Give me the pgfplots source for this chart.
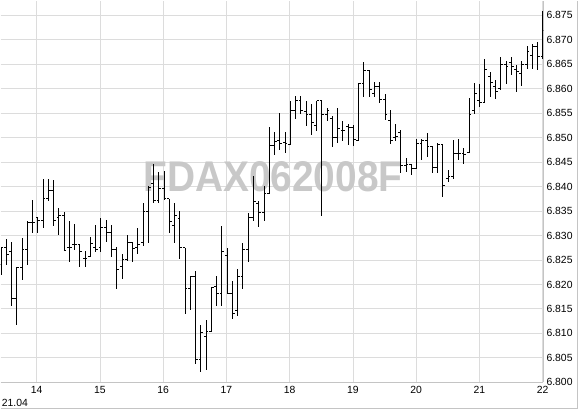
\documentclass[border=0pt]{standalone}
\usepackage{pgfplots}
\pgfplotsset{compat=1.18}
\usepackage{pgfplotstable}
\usepackage{fontspec}
\setmainfont{Liberation Sans}
\definecolor{gridc}{HTML}{DCDCDC}
\definecolor{axc}{HTML}{C4C4C4}
\definecolor{wm}{HTML}{C8C8C8}
\newcommand\tf{\fontsize{10.4bp}{12bp}\selectfont}

\pgfplotstableread{
i O H L C
0 6824.0 6827.5 6822.0 6827.5
1 6827.5 6829.2 6824.0 6826.1
2 6826.7 6828.6 6815.6 6817.2
3 6817.2 6823.6 6811.8 6823.5
4 6823.5 6829.5 6821.0 6827.1
5 6827.1 6833.0 6824.0 6832.6
6 6832.6 6837.2 6830.5 6832.6
7 6833.6 6833.8 6830.5 6833.1
8 6833.1 6841.6 6831.6 6837.5
9 6837.5 6841.6 6837.0 6839.2
10 6839.2 6841.3 6831.9 6833.0
11 6833.6 6835.7 6830.2 6834.1
12 6834.1 6834.9 6827.0 6827.0
13 6827.5 6833.0 6824.6 6827.5
14 6828.1 6832.4 6827.0 6828.1
15 6828.1 6828.1 6823.6 6826.8
16 6825.2 6826.8 6823.6 6825.2
17 6825.8 6829.6 6825.6 6828.3
18 6827.5 6832.1 6826.6 6827.1
19 6827.5 6833.6 6826.6 6831.7
20 6831.7 6833.1 6828.7 6830.7
21 6830.7 6832.2 6825.6 6827.1
22 6827.1 6827.7 6819.1 6823.1
23 6823.7 6826.2 6821.2 6825.1
24 6825.1 6830.2 6824.7 6828.6
25 6828.6 6828.6 6824.6 6827.3
26 6827.5 6831.6 6826.3 6828.2
27 6828.6 6836.7 6827.8 6834.9
28 6834.9 6840.2 6828.5 6839.9
29 6840.6 6844.7 6836.6 6837.2
30 6837.2 6843.0 6836.6 6839.6
31 6839.6 6843.1 6837.2 6837.5
32 6837.5 6837.5 6830.5 6832.8
33 6832.1 6836.6 6828.5 6834.1
34 6833.4 6835.1 6825.1 6827.5
35 6827.5 6827.5 6814.0 6819.1
36 6819.1 6821.7 6814.7 6821.7
37 6821.7 6822.8 6803.7 6804.7
38 6804.7 6811.7 6802.0 6810.2
39 6809.3 6812.7 6802.5 6810.4
40 6810.4 6819.3 6810.3 6819.3
41 6819.5 6821.7 6815.5 6818.1
42 6818.1 6832.0 6815.5 6826.7
43 6826.0 6827.4 6818.1 6818.2
44 6818.2 6820.8 6813.0 6814.0
45 6814.7 6823.1 6813.6 6821.6
46 6821.6 6828.5 6819.0 6827.1
47 6827.1 6834.6 6824.5 6833.7
48 6833.7 6842.2 6832.9 6836.9
49 6836.5 6837.1 6831.8 6834.7
50 6834.7 6840.1 6833.0 6838.6
51 6838.5 6852.2 6838.4 6848.4
52 6848.4 6851.1 6846.5 6849.3
53 6849.5 6855.1 6847.4 6848.8
54 6849.1 6851.2 6846.9 6848.8
55 6848.6 6857.6 6848.5 6855.6
56 6855.6 6858.5 6853.9 6857.6
57 6857.6 6858.5 6854.8 6855.6
58 6855.4 6857.6 6852.4 6854.8
59 6854.8 6856.8 6850.5 6853.1
60 6852.5 6857.6 6851.4 6857.6
61 6857.6 6857.7 6834.0 6854.8
62 6854.8 6856.0 6853.5 6855.6
63 6854.0 6854.5 6848.0 6850.0
64 6850.0 6856.0 6849.0 6851.9
65 6851.5 6853.4 6849.3 6851.5
66 6852.2 6852.7 6848.5 6852.0
67 6852.0 6852.6 6848.4 6849.7
68 6849.4 6861.1 6849.4 6861.1
69 6861.1 6865.5 6858.3 6863.8
70 6863.8 6863.8 6858.3 6859.9
71 6859.1 6861.4 6858.3 6860.5
72 6860.5 6861.4 6857.0 6857.9
73 6857.9 6858.9 6853.6 6854.8
74 6853.6 6855.6 6848.8 6849.4
75 6850.0 6852.9 6849.4 6850.3
76 6851.0 6851.5 6842.7 6844.4
77 6844.4 6845.9 6843.0 6844.5
78 6844.5 6844.6 6842.3 6843.8
79 6843.8 6849.8 6843.5 6848.9
80 6848.9 6849.8 6845.4 6849.4
81 6849.4 6851.0 6846.1 6848.3
82 6848.3 6848.3 6842.7 6843.9
83 6843.9 6848.9 6842.7 6848.6
84 6848.6 6848.8 6837.9 6840.3
85 6841.6 6843.4 6840.9 6842.0
86 6842.0 6849.5 6841.5 6846.8
87 6846.8 6849.8 6845.4 6846.8
88 6846.8 6847.8 6844.6 6846.5
89 6847.0 6858.1 6846.9 6854.7
90 6855.5 6861.2 6854.8 6859.0
91 6857.6 6861.0 6856.2 6857.1
92 6857.1 6866.0 6857.0 6864.0
93 6862.5 6863.5 6858.3 6861.2
94 6860.5 6861.8 6858.0 6859.5
95 6860.0 6866.6 6859.8 6864.9
96 6864.9 6865.6 6861.0 6864.5
97 6865.4 6866.6 6862.8 6864.6
98 6864.0 6864.9 6859.4 6863.5
99 6863.2 6865.6 6860.5 6864.9
100 6864.9 6868.8 6864.0 6867.6
101 6866.8 6869.2 6864.1 6868.6
102 6868.6 6869.5 6863.8 6866.6
103 6866.7 6875.9 6866.1 6872.0
}\ohlc

\begin{document}
\begin{tikzpicture}
\begin{axis}[
  set layers,
  at={(0,0)}, anchor=south west,
  width=543.3bp, height=382bp, scale only axis,
  xmin=-0.05, xmax=103.1, ymin=6800, ymax=6878,
  axis x line=bottom, axis y line=right,
  axis line style={axc, line width=1.5bp, -},
  xtick={6.785,18.80,30.82,42.86,54.88,66.90,78.93,90.95,102.97},
  xticklabels={14,15,16,17,18,19,20,21,22},
  ytick={6800,6805,...,6875},
  grid=major, major grid style={gridc, line width=0.8bp},
  major tick length=0pt,
  scaled y ticks=false,
  /pgf/number format/assume math mode=true,
  yticklabel style={/pgf/number format/fixed, /pgf/number format/precision=0, /pgf/number format/1000 sep={.}, anchor=west, inner sep=0pt, xshift=3bp},
  xticklabel style={anchor=north, inner sep=0pt, yshift=-4bp},
  tick label style={font=\tf, text=black},
  clip=true,
]
\begin{pgfonlayer}{pre main}
\node[font=\fontsize{43bp}{43bp}\selectfont\bfseries, text=wm, xscale=0.905, inner sep=0pt] at (rel axis cs:0.5016,0.539) {FDAX062008F};
\end{pgfonlayer}
\addplot[black, draw=none, mark=none, error bars/.cd, y dir=both, y explicit, error mark=none, error bar style={draw=black, line width=1bp}]
  table[x=i, y=C, y error plus expr=\thisrow{H}-\thisrow{C}, y error minus expr=\thisrow{C}-\thisrow{L}] {\ohlc};
\addplot[black, draw=none, mark=none, error bars/.cd, x dir=both, x fixed=0.22, error mark=none, error bar style={draw=black, line width=1bp}]
  table[x expr=\thisrow{i}-0.22, y=O] {\ohlc};
\addplot[black, draw=none, mark=none, error bars/.cd, x dir=both, x fixed=0.22, error mark=none, error bar style={draw=black, line width=1bp}]
  table[x expr=\thisrow{i}+0.22, y=C] {\ohlc};
\end{axis}
\path (0,-27bp) rectangle (578bp,382bp);
\node[anchor=west, font=\tf, inner sep=0pt] at (1bp,-20.5bp) {21.04};
\draw[axc, line width=1bp] (0,-26.5bp) -- (577.5bp,-26.5bp) -- (577.5bp,382bp);
\end{tikzpicture}
\end{document}
